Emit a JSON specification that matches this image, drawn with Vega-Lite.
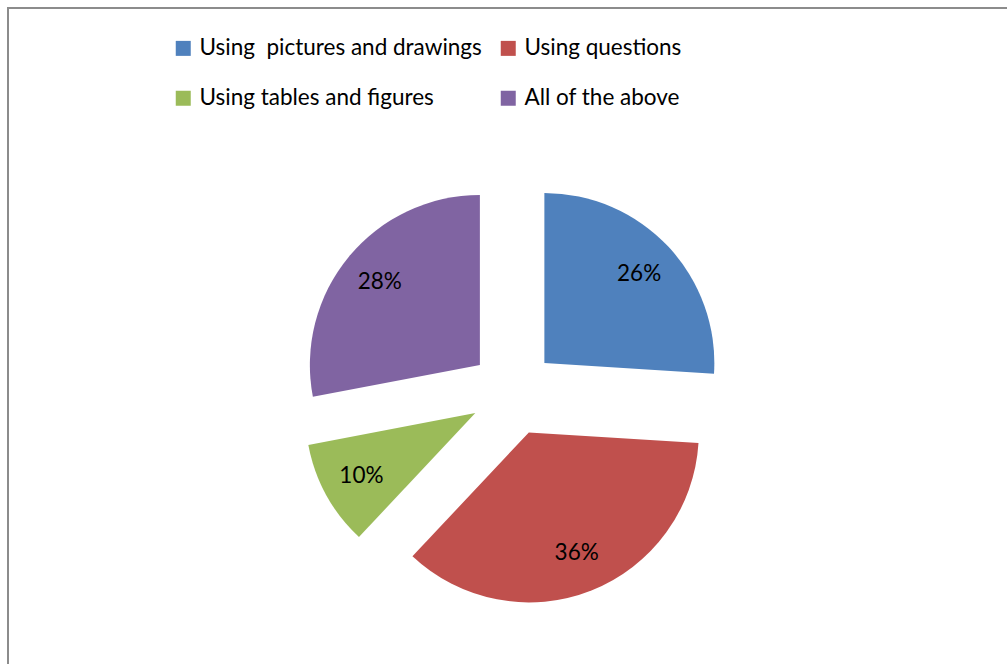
{
  "$schema": "https://vega.github.io/schema/vega-lite/v6.json",
  "width": 1003,
  "height": 660,
  "autosize": {"type": "none"},
  "padding": {"left": 8, "top": 8, "right": -4, "bottom": -4},
  "background": "white",
  "view": {"stroke": "#8c8c8c", "strokeWidth": 2},
  "config": {
    "view": {"stroke": "#8c8c8c", "strokeWidth": 2},
    "font": "Lato"
  },
  "data": {
    "values": [
      {"k": 1, "category": "Using \u00a0pictures and drawings", "pct": 0.26},
      {"k": 2, "category": "Using questions", "pct": 0.36},
      {"k": 3, "category": "Using tables and figures", "pct": 0.10},
      {"k": 4, "category": "All of the above", "pct": 0.28}
    ]
  },
  "encoding": {
    "theta": {"field": "pct", "type": "quantitative", "stack": true},
    "order": {"field": "k", "type": "quantitative"}
  },
  "layer": [
    {
      "mark": {
        "type": "arc",
        "radius": 170,
        "x": 505,
        "y": 384.4,
        "xOffset": {"expr": "43*sin(PI*(datum.pct_start+datum.pct_end))"},
        "yOffset": {"expr": "-43*cos(PI*(datum.pct_start+datum.pct_end))"}
      },
      "encoding": {
        "color": {
          "field": "category",
          "type": "nominal",
          "sort": null,
          "scale": {
            "domain": ["Using \u00a0pictures and drawings", "Using questions", "Using tables and figures", "All of the above"],
            "range": ["#4F81BD", "#C0504D", "#9BBB59", "#8064A2"]
          },
          "legend": {
            "title": null,
            "orient": "none",
            "legendX": 164,
            "legendY": 29,
            "direction": "horizontal",
            "columns": 2,
            "columnPadding": 15,
            "rowPadding": 27,
            "symbolType": "square",
            "symbolSize": 225,
            "symbolStrokeWidth": 0,
            "symbolOpacity": 1,
            "labelFont": "Lato",
            "labelFontSize": 22.5,
            "labelColor": "#000000",
            "labelOffset": 5,
            "labelLimit": 600
          }
        }
      }
    },
    {
      "mark": {
        "type": "text",
        "radius": 130,
        "x": 505,
        "y": 384.4,
        "xOffset": {"expr": "43*sin(PI*(datum.pct_start+datum.pct_end))"},
        "yOffset": {"expr": "-43*cos(PI*(datum.pct_start+datum.pct_end))"},
        "font": "Lato",
        "fontSize": 22.5,
        "color": "#000000",
        "align": "center",
        "baseline": "middle"
      },
      "encoding": {
        "detail": {"field": "category", "type": "nominal"},
        "text": {"field": "pct", "type": "quantitative", "format": ".0%"}
      }
    }
  ]
}
